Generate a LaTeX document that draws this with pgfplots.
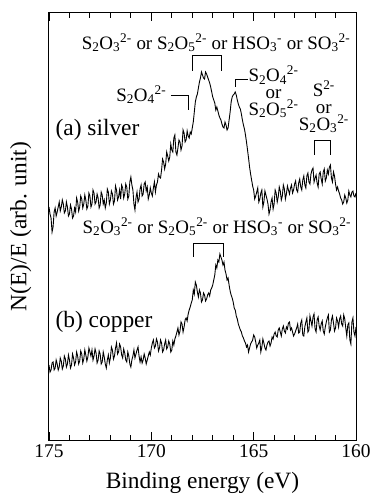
\documentclass[border=0pt]{standalone}
\usepackage{fontspec}
\setmainfont{Liberation Serif}
\usepackage{pgfplots}
\pgfplotsset{compat=1.18}
\newcommand{\ann}{\fontsize{19}{19}\selectfont}
\newcommand{\SO}[2]{S\textsubscript{2}O\textsubscript{#1}\textsuperscript{#2}}
\begin{document}
\begin{tikzpicture}
\useasboundingbox (0,0) rectangle (371bp,496bp);
\begin{axis}[
  at={(49bp,56bp)}, anchor=south west,
  scale only axis, width=307bp, height=427bp,
  x dir=reverse, xmin=160, xmax=175, ymin=0, ymax=427,
  xtick={160,165,170,175}, minor xtick={161,162,163,164,166,167,168,169,171,172,173,174},
  ytick=\empty,
  xtick pos=both, tick align=inside,
  major tick length=8bp, minor tick length=5bp,
  every tick/.style={black, line width=0.9bp},
  axis line style={line width=1bp},
  /pgf/number format/assume math mode=true,
  xticklabel style={font=\fontsize{19.5}{20}\selectfont, yshift=-1bp},
  xlabel={Binding energy (eV)},
  ylabel={N(E)/E (arb. unit)},
  label style={font=\fontsize{23.5}{24}\selectfont},
  xlabel style={at={(axis description cs:0.5,-0.1)}, anchor=center},
  ylabel style={at={(axis description cs:-0.092,0.5)}, anchor=center, rotate=0},
  clip=false,
]
\addplot[black, line width=0.9bp] coordinates {
(175.0,233)(174.95,226)(174.9,222)(174.85,208)(174.8,213)(174.75,228)(174.7,232)(174.65,224)(174.6,228)(174.55,233)
(174.5,238)(174.45,229)(174.4,233)(174.35,240)(174.3,236)(174.25,227)(174.2,229)(174.15,238)(174.1,233)(174.05,224)
(174.0,226)(173.95,235)(173.9,231)(173.85,222)(173.8,224)(173.75,232)(173.7,228)(173.65,242)(173.6,238)(173.55,229)
(173.5,233)(173.45,244)(173.4,241)(173.35,232)(173.3,236)(173.25,245)(173.2,240)(173.15,231)(173.1,234)(173.05,247)
(173.0,244)(172.95,233)(172.9,236)(172.85,250)(172.8,247)(172.75,236)(172.7,238)(172.65,246)(172.6,242)(172.55,232)
(172.5,235)(172.45,248)(172.4,245)(172.35,236)(172.3,240)(172.25,232)(172.2,237)(172.15,251)(172.1,248)(172.05,236)
(172.0,240)(171.95,249)(171.9,246)(171.85,236)(171.8,239)(171.75,254)(171.7,250)(171.65,240)(171.6,243)(171.55,250)
(171.5,241)(171.45,255)(171.4,252)(171.35,242)(171.3,246)(171.25,256)(171.2,253)(171.15,241)(171.1,244)(171.05,258)
(171.0,263)(170.95,255)(170.9,250)(170.85,236)(170.8,230)(170.75,242)(170.7,248)(170.65,238)(170.6,241)(170.55,251)
(170.5,255)(170.45,244)(170.4,246)(170.35,256)(170.3,258)(170.25,249)(170.2,253)(170.15,241)(170.1,245)(170.05,252)
(170.0,247)(169.95,244)(169.9,252)(169.85,258)(169.8,248)(169.75,255)(169.7,258)(169.65,266)(169.6,263)(169.55,262)
(169.5,270)(169.45,281)(169.4,278)(169.35,271)(169.3,276)(169.25,288)(169.2,284)(169.15,279)(169.1,283)(169.05,296)
(169.0,290)(168.95,288)(168.9,302)(168.85,305)(168.8,288)(168.75,285)(168.7,292)(168.65,300)(168.6,298)(168.55,290)
(168.5,294)(168.45,310)(168.4,307)(168.35,298)(168.3,300)(168.25,309)(168.2,304)(168.15,302)(168.1,308)(168.05,306)
(168.0,312)(167.95,318)(167.9,328)(167.85,338)(167.8,343)(167.75,346)(167.7,352)(167.65,358)(167.6,362)(167.55,368)
(167.5,365)(167.45,362)(167.4,361)(167.35,368)(167.3,366)(167.25,363)(167.2,360)(167.15,357)(167.1,353)(167.05,348)
(167.0,343)(166.95,340)(166.9,337)(166.85,330)(166.8,333)(166.75,329)(166.7,325)(166.65,322)(166.6,320)(166.55,316)
(166.5,313)(166.45,312)(166.4,318)(166.35,315)(166.3,310)(166.25,312)(166.2,320)(166.15,328)(166.1,338)(166.05,343)
(166.0,345)(165.95,346)(165.9,348)(165.85,345)(165.8,340)(165.75,336)(165.7,333)(165.65,331)(165.6,326)(165.55,320)
(165.5,315)(165.45,311)(165.4,305)(165.35,298)(165.3,290)(165.25,282)(165.2,273)(165.15,266)(165.1,260)(165.05,254)
(165.0,250)(164.95,241)(164.9,244)(164.85,248)(164.8,252)(164.75,238)(164.7,241)(164.65,247)(164.6,250)(164.55,233)
(164.5,238)(164.45,249)(164.4,245)(164.35,241)(164.3,236)(164.25,226)(164.2,230)(164.15,238)(164.1,242)(164.05,231)
(164.0,236)(163.95,250)(163.9,247)(163.85,238)(163.8,243)(163.75,253)(163.7,249)(163.65,240)(163.6,244)(163.55,255)
(163.5,251)(163.45,241)(163.4,246)(163.35,254)(163.3,250)(163.25,246)(163.2,252)(163.15,255)(163.1,247)(163.05,250)
(163.0,256)(162.95,259)(162.9,250)(162.85,248)(162.8,257)(162.75,261)(162.7,253)(162.65,250)(162.6,260)(162.55,264)
(162.5,255)(162.45,252)(162.4,264)(162.35,267)(162.3,258)(162.25,256)(162.2,266)(162.15,270)(162.1,272)(162.05,258)
(162.0,262)(161.95,265)(161.9,257)(161.85,253)(161.8,266)(161.75,268)(161.7,261)(161.65,256)(161.6,268)(161.55,271)
(161.5,259)(161.45,262)(161.4,270)(161.35,266)(161.3,273)(161.25,275)(161.2,262)(161.15,258)(161.1,268)(161.05,264)
(161.0,256)(160.95,250)(160.9,253)(160.85,249)(160.8,246)(160.75,242)(160.7,240)(160.65,236)(160.6,238)(160.55,245)
(160.5,242)(160.45,237)(160.4,240)(160.35,249)(160.3,245)(160.25,243)(160.2,248)(160.15,249)(160.1,244)(160.05,243)(160.0,247)
};
\addplot[black, line width=0.9bp] coordinates {
(175.0,75)(174.95,68)(174.9,70)(174.85,77)(174.8,78)(174.75,70)(174.7,72)(174.65,80)(174.6,76)(174.55,70)
(174.5,73)(174.45,82)(174.4,79)(174.35,71)(174.3,74)(174.25,84)(174.2,81)(174.15,73)(174.1,76)(174.05,85)
(174.0,80)(173.95,72)(173.9,75)(173.85,86)(173.8,82)(173.75,75)(173.7,78)(173.65,88)(173.6,84)(173.55,76)
(173.5,79)(173.45,89)(173.4,86)(173.35,77)(173.3,81)(173.25,90)(173.2,85)(173.15,79)(173.1,83)(173.05,92)
(173.0,88)(172.95,84)(172.9,90)(172.85,80)(172.8,84)(172.75,91)(172.7,87)(172.65,77)(172.6,80)(172.55,89)
(172.5,86)(172.45,76)(172.4,78)(172.35,88)(172.3,83)(172.25,76)(172.2,72)(172.15,80)(172.1,85)(172.05,77)
(172.0,82)(171.95,93)(171.9,90)(171.85,81)(171.8,84)(171.75,92)(171.7,97)(171.65,86)(171.6,88)(171.55,96)
(171.5,93)(171.45,85)(171.4,82)(171.35,91)(171.3,87)(171.25,80)(171.2,78)(171.15,88)(171.1,84)(171.05,76)
(171.0,73)(170.95,80)(170.9,84)(170.85,90)(170.8,82)(170.75,86)(170.7,90)(170.65,93)(170.6,84)(170.55,78)
(170.5,83)(170.45,77)(170.4,80)(170.35,86)(170.3,82)(170.25,76)(170.2,80)(170.15,84)(170.1,88)(170.05,85)
(170.0,92)(169.95,97)(169.9,100)(169.85,92)(169.8,94)(169.75,101)(169.7,98)(169.65,89)(169.6,92)(169.55,100)
(169.5,97)(169.45,88)(169.4,90)(169.35,96)(169.3,100)(169.25,91)(169.2,93)(169.15,99)(169.1,96)(169.05,88)
(169.0,90)(168.95,99)(168.9,95)(168.85,101)(168.8,104)(168.75,108)(168.7,112)(168.65,105)(168.6,109)(168.55,118)
(168.5,116)(168.45,108)(168.4,113)(168.35,120)(168.3,122)(168.25,119)(168.2,126)(168.15,130)(168.1,133)(168.05,137)
(168.0,140)(167.95,150)(167.9,146)(167.85,158)(167.8,155)(167.75,148)(167.7,143)(167.65,150)(167.6,147)(167.55,138)
(167.5,140)(167.45,147)(167.4,145)(167.35,139)(167.3,141)(167.25,145)(167.2,147)(167.15,144)(167.1,150)(167.05,152)
(167.0,155)(166.95,160)(166.9,165)(166.85,175)(166.8,172)(166.75,180)(166.7,178)(166.65,186)(166.6,183)(166.55,180)
(166.5,175)(166.45,178)(166.4,170)(166.35,166)(166.3,160)(166.25,162)(166.2,155)(166.15,149)(166.1,145)(166.05,142)
(166.0,138)(165.95,132)(165.9,130)(165.85,124)(165.8,121)(165.75,116)(165.7,113)(165.65,110)(165.6,108)(165.55,104)
(165.5,102)(165.45,99)(165.4,97)(165.35,93)(165.3,95)(165.25,88)(165.2,92)(165.15,96)(165.1,98)(165.05,100)
(165.0,105)(164.95,103)(164.9,98)(164.85,92)(164.8,95)(164.75,97)(164.7,100)(164.65,88)(164.6,93)(164.55,101)
(164.5,97)(164.45,92)(164.4,90)(164.35,95)(164.3,98)(164.25,99)(164.2,94)(164.15,97)(164.1,103)(164.05,101)
(164.0,106)(163.95,108)(163.9,104)(163.85,103)(163.8,110)(163.75,112)(163.7,108)(163.65,104)(163.6,111)(163.55,114)
(163.5,109)(163.45,107)(163.4,113)(163.35,111)(163.3,117)(163.25,118)(163.2,110)(163.15,112)(163.1,108)(163.05,104)
(163.0,106)(162.95,109)(162.9,112)(162.85,116)(162.8,107)(162.75,108)(162.7,117)(162.65,120)(162.6,105)(162.55,104)
(162.5,113)(162.45,118)(162.4,122)(162.35,108)(162.3,110)(162.25,124)(162.2,119)(162.15,114)(162.1,123)(162.05,126)
(162.0,111)(161.95,108)(161.9,120)(161.85,123)(161.8,114)(161.75,110)(161.7,116)(161.65,119)(161.6,109)(161.55,106)
(161.5,113)(161.45,118)(161.4,122)(161.35,125)(161.3,108)(161.25,110)(161.2,120)(161.15,124)(161.1,117)(161.05,109)
(161.0,112)(160.95,122)(160.9,119)(160.85,113)(160.8,121)(160.75,124)(160.7,116)(160.65,114)(160.6,125)(160.55,121)
(160.5,112)(160.45,104)(160.4,115)(160.35,117)(160.3,100)(160.25,96)(160.2,118)(160.15,122)(160.1,108)(160.05,104)(160.0,113)
};
% annotations
\draw[line width=0.9bp] (axis cs:167.97,369) |- (axis cs:166.55,385) -- (axis cs:166.55,369);
\node[font=\ann] at (axis cs:166.84,397) {\SO{3}{2-} or \SO{5}{2-} or HSO\textsubscript{3}\textsuperscript{-} or SO\textsubscript{3}\textsuperscript{2-}};
\draw[line width=0.9bp] (axis cs:169.05,345) -| (axis cs:168.21,330);
\node[font=\ann, anchor=east] at (axis cs:169.1,345) {\SO{4}{2-}};
\draw[line width=0.9bp] (axis cs:165.9,353) |- (axis cs:165.3,361);
\node[font=\fontsize{19}{17}\selectfont, align=center, anchor=north, inner sep=1bp] at (axis cs:164.03,375) {\SO{4}{2-}\\or\\\SO{5}{2-}};
\node[font=\fontsize{19}{17}\selectfont, align=center, anchor=north, inner sep=1bp] at (axis cs:161.57,360) {S\textsuperscript{2-}\\or\\\SO{3}{2-}};
\draw[line width=0.9bp] (axis cs:162.05,285) |- (axis cs:161.27,300) -- (axis cs:161.27,285);
\node[font=\fontsize{23.5}{24}\selectfont, anchor=west] at (axis cs:174.85,310) {(a) silver};
\draw[line width=0.9bp] (axis cs:167.92,183) |- (axis cs:166.5,197) -- (axis cs:166.5,183);
\node[font=\ann] at (axis cs:166.8,213) {\SO{3}{2-} or \SO{5}{2-} or HSO\textsubscript{3}\textsuperscript{-} or SO\textsubscript{3}\textsuperscript{2-}};
\node[font=\fontsize{23.5}{24}\selectfont, anchor=west] at (axis cs:174.85,118) {(b) copper};
\end{axis}
\end{tikzpicture}
\end{document}
